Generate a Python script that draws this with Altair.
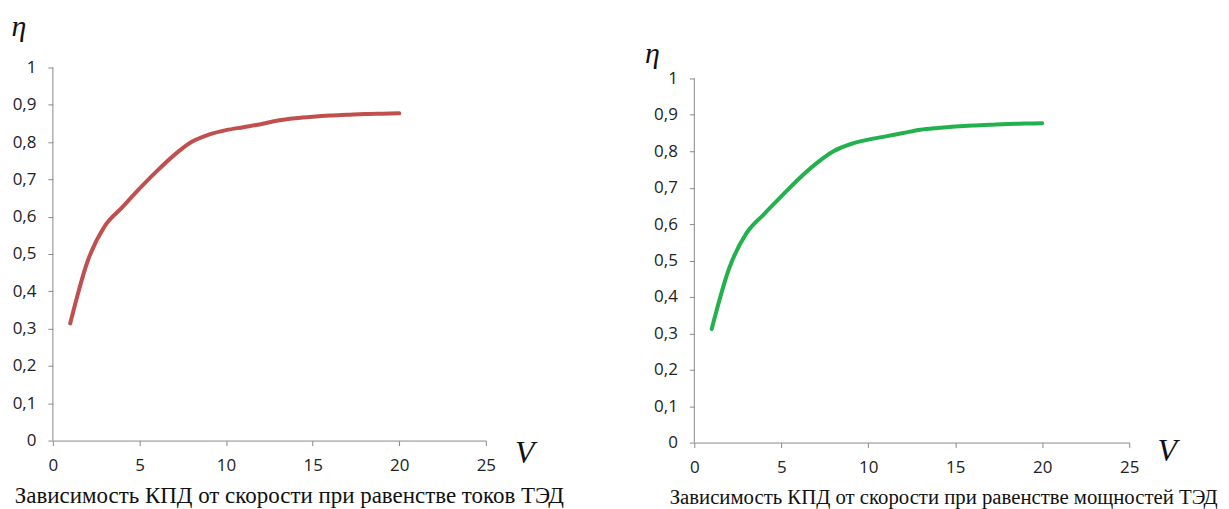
import altair as alt
import pandas as pd

# ---- data ----
speed = [1, 2, 3, 4, 5, 6, 7, 8, 9, 10, 11, 12, 13, 14, 15, 16, 17, 18, 19, 20]
eff_currents = [0.314, 0.48, 0.575, 0.625, 0.675, 0.722, 0.765, 0.800, 0.820, 0.832,
                0.840, 0.848, 0.858, 0.864, 0.868, 0.871, 0.873, 0.875, 0.876, 0.877]
eff_powers = [0.312, 0.478, 0.575, 0.627, 0.676, 0.724, 0.766, 0.800, 0.820, 0.832,
              0.841, 0.850, 0.859, 0.864, 0.868, 0.871, 0.873, 0.875, 0.876, 0.877]
x_ticks = [0, 5, 10, 15, 20, 25]
y_ticks = [0, 0.1, 0.2, 0.3, 0.4, 0.5, 0.6, 0.7, 0.8, 0.9, 1.0]
caption_left = "Зависимость КПД от скорости при равенстве токов ТЭД"
caption_right = "Зависимость КПД  от скорости при равенстве мощностей ТЭД"

LABEL_EXPR = "replace(format(datum.value, '.1~f'), '.', ',')"
AXIS_GRAY = "#8A8A8A"


def panel(values, color, w, h, ymax, eta_pos, v_pos, cap_pos, cap_size, caption, spacer):
    df = pd.DataFrame({"V": speed, "eta": values})
    x = alt.X("V:Q", scale=alt.Scale(domain=[0, 25], nice=False),
              axis=alt.Axis(values=x_ticks, title=None, grid=False, labelPadding=12,
                            labelFlush=False, labelExpr=LABEL_EXPR))
    y = alt.Y("eta:Q", scale=alt.Scale(domain=[0, ymax], nice=False),
              axis=alt.Axis(values=y_ticks, title=None, grid=False, labelPadding=12,
                            labelFlush=False, labelOverlap=False, labelExpr=LABEL_EXPR,
                            domain=False))
    one = pd.DataFrame({"k": [0]})
    # y-axis line from 0 to 1 drawn through the same scales
    yline = alt.Chart(pd.DataFrame({"V": [0], "eta": [0.0], "eta_hi": [1.0]})).mark_rule(
        color=AXIS_GRAY, strokeWidth=1).encode(x=x, y=y, y2="eta_hi:Q")
    line = alt.Chart(df).mark_line(color=color, strokeWidth=4, interpolate="monotone",
                                   strokeCap="round").encode(x=x, y=y)
    eta = alt.Chart(one).mark_text(text="η", font="Liberation Serif", fontStyle="italic",
                                   fontSize=30, align="center", baseline="middle",
                                   color="#111").encode(x=alt.value(eta_pos[0]), y=alt.value(eta_pos[1]))
    vv = alt.Chart(one).mark_text(text="V", font="Liberation Serif", fontStyle="italic",
                                  fontSize=32, align="center", baseline="middle",
                                  color="#111").encode(x=alt.value(v_pos[0]), y=alt.value(v_pos[1]))
    cap = alt.Chart(one).mark_text(text=caption, font="Liberation Serif", fontSize=cap_size,
                                   align="center", baseline="alphabetic",
                                   color="#111").encode(x=alt.value(cap_pos[0]), y=alt.value(cap_pos[1]))
    sp = alt.Chart(one).mark_rule(color="white", strokeWidth=0.5).encode(
        x=alt.value(spacer[0]), x2=alt.value(spacer[1]), y=alt.value(spacer[2]))
    return alt.layer(sp, yline, line, eta, vv, cap).properties(width=w, height=h)


left = panel(eff_currents, "#C0504D", 434, 374, 1.0, (-34, -41), (473, 387), (237, 437), 23,
             caption_left, (-44, 520, -58))
right = panel(eff_powers, "#22B14C", 436, 376, 376 / 365, (-42, -13), (474, 384), (250, 438), 20.8,
              caption_right, (-52, 520, -58))

chart = alt.hconcat(left, right, spacing=69).properties(
    padding={"left": 0, "top": 0, "right": 0, "bottom": 0}
).configure_view(stroke=None).configure_axis(
    domainColor=AXIS_GRAY, tickColor=AXIS_GRAY, tickSize=5, domainWidth=1,
    labelColor="#222222", labelFont="Open Sans", labelFontSize=17
)

chart.save("out.html", embed_options={"renderer": "svg", "actions": False})
